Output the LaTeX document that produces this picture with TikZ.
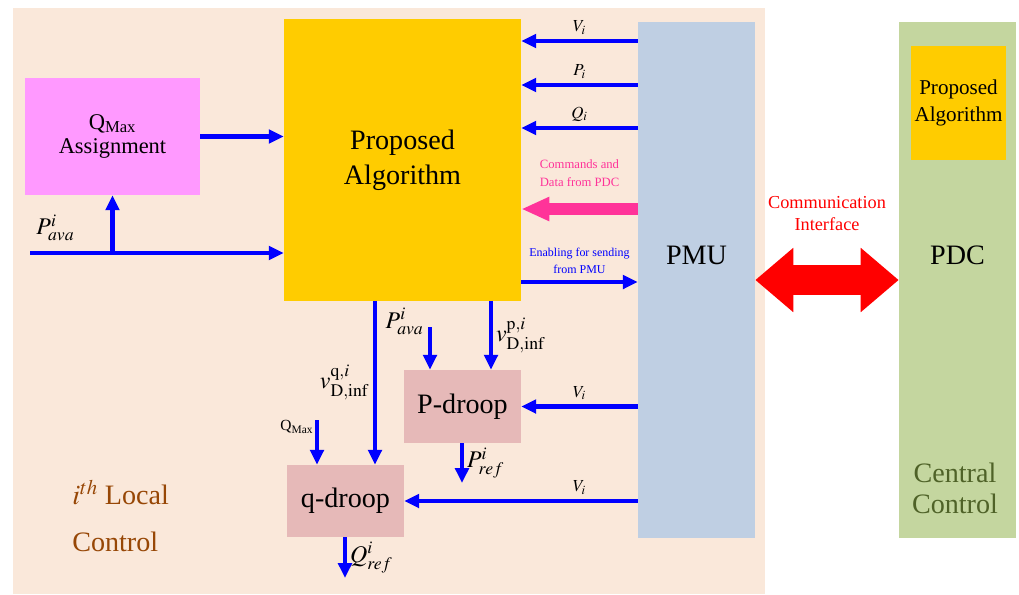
\documentclass[tikz,border=0pt]{standalone}
\usepackage{mathptmx}
\usepackage[no-math]{fontspec}
\setmainfont{Liberation Serif}
\usetikzlibrary{arrows.meta, positioning, calc}
\definecolor{bgpeach}{HTML}{FAE8DA}
\definecolor{pmublue}{HTML}{BFCFE3}
\definecolor{pdcgreen}{HTML}{C4D69F}
\definecolor{algyellow}{HTML}{FFCC00}
\definecolor{qmaxpink}{HTML}{FF99FF}
\definecolor{droopred}{HTML}{E6B9B8}
\definecolor{arrowblue}{HTML}{0000FF}
\definecolor{cmdpink}{HTML}{FF3399}
\definecolor{localbrown}{HTML}{974706}
\definecolor{centralgreen}{HTML}{4F6228}

\begin{document}
\begin{tikzpicture}[
    x=0.025cm, y=-0.025cm,
    bigfont/.style={font=\rmfamily\fontsize{20}{25}\selectfont},
    block/.style={inner sep=0pt, align=center},
    arrow/.style={-{Triangle[length=10.5pt,width=9.5pt]}, line width=3.2pt, draw=arrowblue},
    cmdarrow/.style={-{Triangle[length=20pt,width=16pt]}, line width=8.5pt, draw=cmdpink},
    commarrow/.style={{Triangle[length=27pt,width=44pt]}-{Triangle[length=27pt,width=44pt]},
                      line width=22pt, draw=red},
    smalllabel/.style={font=\fontsize{12}{14}\selectfont, inner sep=1pt},
    biglabel/.style={font=\fontsize{17}{20}\selectfont, inner sep=1pt}
]
\useasboundingbox (0,0) rectangle (1019,594);
\fill[bgpeach] (13,8) rectangle (765,594);

\node[block, fill=algyellow, minimum width=5.925cm, minimum height=7.025cm, bigfont] (alg) at (402.5,160) {Proposed\\Algorithm};
\node[block, fill=pmublue, minimum width=2.925cm, minimum height=12.9cm,
      label={[bigfont, yshift=0.625cm]center:PMU}] (pmu) at (696.5,280) {};
\node[block, fill=pdcgreen, minimum width=2.925cm, minimum height=12.9cm,
      label={[bigfont, yshift=0.625cm]center:PDC}] (pdc) at (957.5,280) {};
\node[block, fill=algyellow, minimum width=2.375cm, minimum height=2.85cm,
      font=\rmfamily\fontsize{15}{19}\selectfont] (alg2) at (958.5,103) {Proposed\\Algorithm};
\node[block, text=centralgreen, font=\rmfamily\fontsize{20}{22}\selectfont] (central) at (955,488) {Central\\Control};
\node[block, fill=qmaxpink, minimum width=4.375cm, minimum height=2.925cm,
      font=\rmfamily\fontsize{16}{17}\selectfont] (qmax) at (112.5,136.5) {Q\textsubscript{Max}\\Assignment};
\node[block, fill=droopred, minimum width=2.925cm, minimum height=1.825cm, bigfont] (pdroop) at (462.5,406.5) {P-droop};
\node[block, fill=droopred, minimum width=2.925cm, minimum height=1.8cm, bigfont] (qdroop) at (345.5,501) {q-droop};
\node[block, anchor=west, align=left, text=localbrown, font=\rmfamily\fontsize{20}{33}\selectfont] (local) at (72,516) {$i^{th}$ Local\\Control};

\coordinate (pin) at (30,253);
\coordinate (pjoin) at (qmax.south |- pin);
\coordinate (pavb) at (430,327);
\coordinate (qmaxb) at (317,420);
\coordinate (pref) at (462,483);
\coordinate (qref) at (345,578);

\draw[arrow] (pmu.west |- 0,41) -- node[above=2pt, smalllabel]{$V_i$} (alg.east |- 0,41);
\draw[arrow] (pmu.west |- 0,85) -- node[above=2pt, smalllabel]{$P_i$} (alg.east |- 0,85);
\draw[arrow] (pmu.west |- 0,128) -- node[above=2pt, smalllabel]{$Q_i$} (alg.east |- 0,128);
\draw[cmdarrow] (pmu.west |- 0,209) -- node[above=8pt, align=center, text=cmdpink,
    font=\rmfamily\fontsize{9}{13}\selectfont]{Commands and\\Data from PDC} (alg.east |- 0,209);
\draw[arrow] (alg.east |- 0,282) -- node[above=1pt, align=center, text=arrowblue,
    font=\rmfamily\fontsize{8.5}{12}\selectfont]{Enabling for sending\\from PMU} (pmu.west |- 0,282);
\draw[arrow] (qmax.east) -- (alg.west |- qmax.east);
\draw[arrow] (pin) node[above right=6pt and 2pt, biglabel]{$P^i_{ava}$} -- (alg.west |- pin);
\draw[arrow] (pjoin) -- (qmax.south);
\draw[arrow] (alg.south -| 375,0) -- node[left=2pt, biglabel]{$v^{\mathrm{q},i}_{\mathrm{D,inf}}$} (qdroop.north -| 375,0);
\draw[arrow] (alg.south -| 491,0) -- node[right=1pt, biglabel]{$v^{\mathrm{p},i}_{\mathrm{D,inf}}$} (pdroop.north -| 491,0);
\draw[arrow] (pavb) node[left=2pt, yshift=4pt, biglabel]{$P^i_{ava}$} -- (pdroop.north -| pavb);
\draw[arrow] (qmaxb) node[left, yshift=-5pt, font=\rmfamily\fontsize{11}{13}\selectfont, inner sep=1pt]{Q\textsubscript{Max}} -- (qdroop.north -| qmaxb);
\draw[arrow] (pmu.west |- pdroop.east) -- node[above=2pt, smalllabel]{$V_i$} (pdroop.east);
\draw[arrow] (pmu.west |- qdroop.east) -- node[pos=0.25, above=2pt, smalllabel]{$V_i$} (qdroop.east);
\draw[arrow] (pdroop.south -| pref) -- node[right=1pt, biglabel]{$P^i_{ref}$} (pref);
\draw[arrow] (qdroop.south -| qref) -- node[right=1pt, biglabel]{$Q^i_{ref}$} (qref);
\draw[commarrow] (pmu.east) -- node[above=21pt, align=center, text=red,
    font=\rmfamily\fontsize{13}{15.5}\selectfont]{Communication\\Interface} (pdc.west);
\end{tikzpicture}
\end{document}
